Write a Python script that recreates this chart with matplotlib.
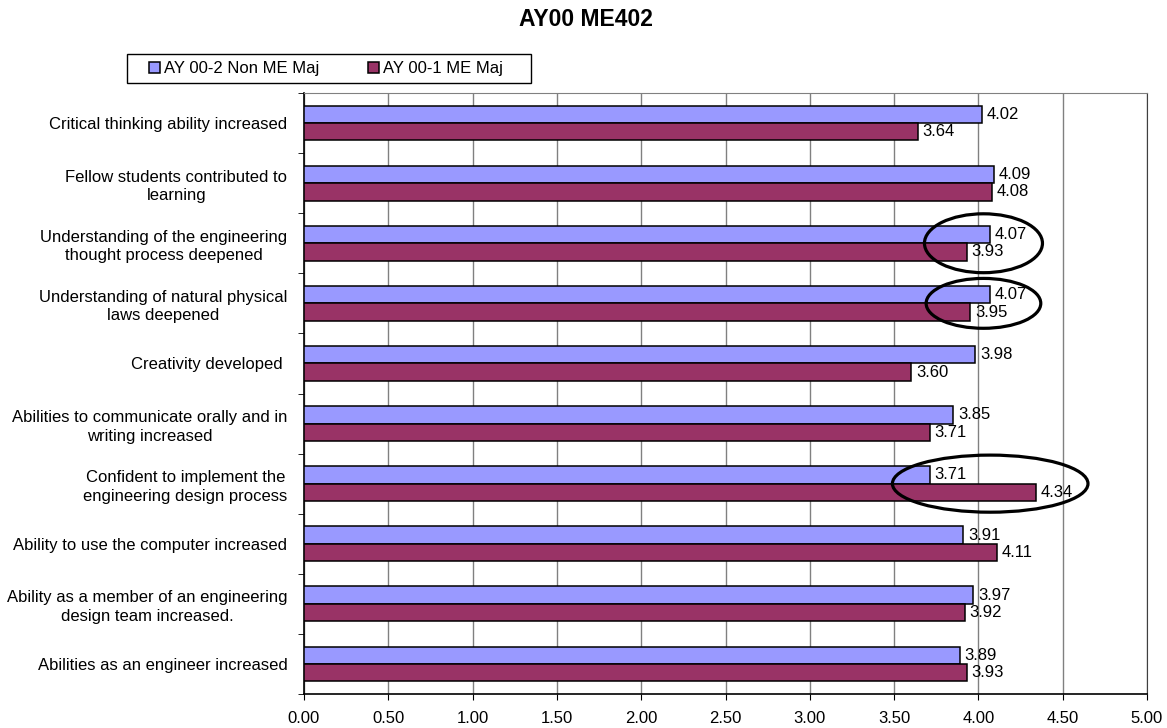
import numpy as np
import matplotlib
matplotlib.use("Agg")
import matplotlib.pyplot as plt
from matplotlib.patches import Ellipse, Rectangle

plt.rcParams['font.family'] = ['Liberation Sans', 'DejaVu Sans']

# survey items, top to bottom
categories = [
    "Critical thinking ability increased",
    "Fellow students contributed to\nlearning",
    "Understanding of the engineering\nthought process deepened",
    "Understanding of natural physical\nlaws deepened",
    "Creativity developed ",
    "Abilities to communicate orally and in\nwriting increased",
    "Confident to implement the\nengineering design process",
    "Ability to use the computer increased",
    "Ability as a member of an engineering\ndesign team increased.",
    "Abilities as an engineer increased",
]
non_me_maj = [4.02, 4.09, 4.07, 4.07, 3.98, 3.85, 3.71, 3.91, 3.97, 3.89]
me_maj = [3.64, 4.08, 3.93, 3.95, 3.60, 3.71, 4.34, 4.11, 3.92, 3.93]
series_names = ["AY 00-2 Non ME Maj", "AY 00-1 ME Maj"]
x_ticks = [0.0, 0.5, 1.0, 1.5, 2.0, 2.5, 3.0, 3.5, 4.0, 4.5, 5.0]

# highlighted items (circled in the original)
circled = [2, 3, 6]
circle_x = [4.03, 4.03, 4.07]
circle_w = [0.70, 0.68, 1.16]
circle_h = [0.98, 0.83, 0.95]

W, H = 1167, 728
fig = plt.figure(figsize=(W/100, H/100), dpi=100)
ax = fig.add_axes([304/W, 1-694/H, (1147-304)/W, (694-93)/H])

fs = 12
y = np.arange(len(categories))
h = 0.29
b1 = ax.barh(y - h/2, non_me_maj, height=h, color='#9999FF', edgecolor='black', linewidth=1.1,
             label=series_names[0], zorder=3)
b2 = ax.barh(y + h/2, me_maj, height=h, color='#993366', edgecolor='black', linewidth=1.1,
             label=series_names[1], zorder=3)

for bars, vals in [(b1, non_me_maj), (b2, me_maj)]:
    for rect, v in zip(bars, vals):
        ax.annotate(f"{v:.2f}", (v, rect.get_y() + rect.get_height()/2),
                    xytext=(3.5, 0), textcoords='offset points',
                    ha='left', va='center', fontsize=fs, zorder=5)

for i, cx, w, hh in zip(circled, circle_x, circle_w, circle_h):
    ax.add_patch(Ellipse((cx, i), w, hh, fill=False, edgecolor='black', linewidth=2.3, zorder=6))

ax.set_xlim(0, 5)
ax.set_ylim(len(categories) - 0.5, -0.5)
ax.set_xticks(x_ticks)
ax.set_xticklabels([f"{t:.2f}" for t in x_ticks], fontsize=fs)
ax.set_yticks(y)
ax.set_yticklabels(categories, fontsize=fs, multialignment='center', linespacing=1.3)
ax.set_yticks(np.arange(len(categories) + 1) - 0.5, minor=True)
ax.tick_params(axis='y', which='major', length=0, pad=12)
ax.tick_params(axis='y', which='minor', length=4, direction='out')
ax.tick_params(axis='x', length=4, direction='out', pad=8)

ax.xaxis.grid(True, color='#808080', linewidth=1.0, zorder=0)
ax.set_axisbelow(True)
ax.spines['top'].set_color('#808080')
ax.spines['right'].set_color('#404040')
ax.spines['left'].set_linewidth(1.2)
ax.spines['bottom'].set_linewidth(1.2)

fig.text(586/W, 1 - 19/H, "AY00 ME402", ha='center', va='center', fontsize=16.5, fontweight='bold')

leg = fig.legend(handles=[b1, b2], labels=series_names, loc='center', ncol=2,
                 bbox_to_anchor=(326/W, 1 - 68.5/H), bbox_transform=fig.transFigure,
                 fontsize=fs, frameon=False,
                 handlelength=0.65, handleheight=0.65, handletextpad=0.25,
                 columnspacing=2.9, borderpad=0.2)
fig.patches.append(Rectangle((127/W, 1 - 83/H), (531-127)/W, 29/H, transform=fig.transFigure,
                             fill=False, edgecolor='black', linewidth=1.0))

fig.savefig("out.png", dpi=100)
